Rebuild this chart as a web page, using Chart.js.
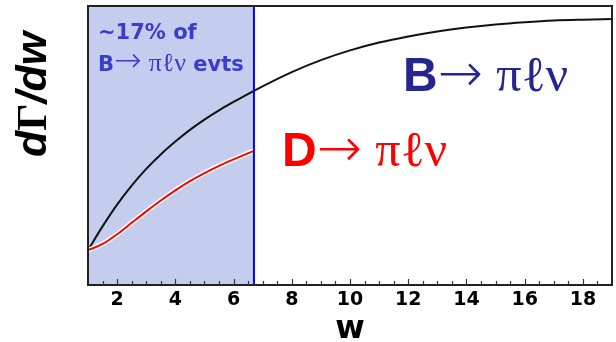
<!DOCTYPE html>
<html>
<head>
<meta charset="utf-8">
<script src="https://cdn.jsdelivr.net/npm/chart.js@4"></script>
<style>
  html, body { margin: 0; padding: 0; background: #ffffff; }
</style>
</head>
<body>
<canvas id="myChart" width="616" height="342"></canvas>
<script>
// B -> pi l nu curve
const bW = [1, 1.5, 2, 2.5, 3, 3.5, 4, 4.5, 5, 5.5, 6, 6.7, 8, 9, 10, 11, 12, 13, 14, 15, 16, 17, 18, 19];
const bRate = [12.5, 21.0, 28.8, 35.6, 41.6, 46.8, 51.4, 55.6, 59.3, 62.6, 65.6, 69.6, 76.3, 80.6, 84.1, 86.9, 89.1, 90.9, 92.3, 93.4, 94.2, 94.8, 95.1, 95.3];

// D -> pi l nu curve, stops at the end of the D phase space
const dW = [1, 1.5, 2, 2.5, 3, 3.5, 4, 4.5, 5, 5.5, 6, 6.7];
const dRate = [12.5, 14.7, 18.2, 22.3, 26.4, 30.3, 33.9, 37.2, 40.1, 42.7, 45.0, 48.1];

// shaded region (w range of D decays)
const shadeFrom = 1;
const shadeTo = 6.7;

// axis
const wMin = 1;
const wMax = 19;
const tickLabels = ['2', '4', '6', '8', '10', '12', '14', '16', '18'];

function toPoints(xs, ys) {
    return xs.map((x, i) => ({ x: x, y: ys[i] }));
}

// draw text made of pieces in different fonts
function drawPieces(ctx, pieces, x, y, color) {
    ctx.fillStyle = color;
    ctx.textBaseline = 'alphabetic';
    ctx.textAlign = 'left';
    for (const p of pieces) {
        ctx.font = p[1];
        ctx.fillText(p[0], x, y);
        x += ctx.measureText(p[0]).width;
    }
}

const decorations = {
    id: 'decorations',
    beforeDatasetsDraw(chart) {
        const ctx = chart.ctx;
        const xs = chart.scales.x;
        const area = chart.chartArea;
        const a = xs.getPixelForValue(shadeFrom);
        const b = xs.getPixelForValue(shadeTo);
        ctx.save();
        ctx.fillStyle = '#c5cdee';
        ctx.fillRect(a, area.top, b - a, area.bottom - area.top);
        ctx.restore();
    },
    afterDatasetsDraw(chart) {
        const ctx = chart.ctx;
        const xs = chart.scales.x;
        const area = chart.chartArea;
        const b = xs.getPixelForValue(shadeTo);
        ctx.save();
        // vertical blue line
        ctx.strokeStyle = '#0000ff';
        ctx.lineWidth = 2;
        ctx.beginPath();
        ctx.moveTo(b, area.top);
        ctx.lineTo(b, area.bottom);
        ctx.stroke();

        // frame
        ctx.strokeStyle = '#222222';
        ctx.lineWidth = 2;
        ctx.strokeRect(area.left, area.top, area.right - area.left, area.bottom - area.top);

        // inward ticks
        ctx.lineWidth = 1.2;
        ctx.strokeStyle = '#333333';
        xs.ticks.forEach(t => {
            if (t.value <= wMin || t.value >= wMax) return;
            const px = Math.round(xs.getPixelForValue(t.value)) + 0.5;
            const len = (t.value % 2 === 0) ? 6 : 4;
            ctx.beginPath();
            ctx.moveTo(px, area.bottom);
            ctx.lineTo(px, area.bottom - len);
            ctx.stroke();
        });

        // labels
        const sans = '"Liberation Sans", Arial, sans-serif';
        const wide = '"DejaVu Sans", sans-serif';
        const serif = '"Liberation Serif", "Times New Roman", serif';
        drawPieces(ctx, [['~17% of', 'bold 21px ' + wide]], 98, 39, '#3b3bcf');
        drawPieces(ctx, [['B', 'bold 21px ' + wide], ['\u2192', '200 33px ' + wide], [' ', '22px ' + wide],
            ['\u03c0\u2113\u03bd', '26px ' + serif], [' evts', 'bold 21px ' + wide]], 98, 71, '#3b3bcf');
        drawPieces(ctx, [['B', 'bold 48px ' + sans], ['\u2192', '200 54px ' + wide], [' ', '48px ' + sans],
            ['\u03c0\u2113\u03bd', '50px ' + serif]], 403, 91, '#25258f');
        drawPieces(ctx, [['D', 'bold 48px ' + sans], ['\u2192', '200 54px ' + wide], [' ', '48px ' + sans],
            ['\u03c0\u2113\u03bd', '50px ' + serif]], 282, 166, '#ff0000');

        // y axis title, rotated
        ctx.translate(46, 157);
        ctx.rotate(-Math.PI / 2);
        drawPieces(ctx, [['d', 'italic bold 43px ' + sans], ['\u0393', 'bold 43px ' + serif],
            ['/dw', 'italic bold 43px ' + sans]], 0, 0, '#000000');
        ctx.restore();
    }
};

let ctx = document.getElementById('myChart').getContext('2d');
let myChart = new Chart(ctx, {
    type: 'line',
    data: {
        datasets: [
            {
                label: 'D',
                data: toPoints(dW, dRate),
                borderColor: '#ff0000',
                borderWidth: 2,
                pointRadius: 0,
                cubicInterpolationMode: 'monotone',
                order: 0
            },
            {
                label: 'D outline',
                data: toPoints(dW, dRate),
                borderColor: '#ffffff',
                borderWidth: 5,
                pointRadius: 0,
                cubicInterpolationMode: 'monotone',
                order: 1
            },
            {
                label: 'B',
                data: toPoints(bW, bRate),
                borderColor: '#111111',
                borderWidth: 2,
                pointRadius: 0,
                cubicInterpolationMode: 'monotone',
                order: 2
            }
        ]
    },
    options: {
        responsive: false,
        animation: false,
        devicePixelRatio: 1,
        layout: { padding: { top: 6, right: 1, left: 0, bottom: 0 } },
        plugins: {
            legend: { display: false },
            tooltip: { enabled: false }
        },
        scales: {
            x: {
                type: 'linear',
                min: wMin,
                max: wMax,
                grid: { display: false, drawTicks: false },
                border: { display: false },
                ticks: {
                    stepSize: 0.5,
                    autoSkip: false,
                    maxRotation: 0,
                    padding: 4,
                    color: '#000000',
                    font: { family: '"DejaVu Sans", sans-serif', size: 19, weight: 'bold' },
                    callback: (v) => tickLabels.includes(String(v)) ? String(v) : ''
                },
                title: {
                    display: true,
                    text: 'w',
                    color: '#000000',
                    padding: 0,
                    font: { family: '"DejaVu Sans", sans-serif', size: 32, weight: 'bold', lineHeight: 0.75 }
                },
                afterFit: (s) => { s.height = 57; }
            },
            y: {
                min: 0,
                max: 100,
                grid: { display: false, drawTicks: false },
                border: { display: false },
                ticks: { display: false },
                afterFit: (s) => { s.width = 88; }
            }
        }
    },
    plugins: [decorations]
});
</script>
</body>
</html>
